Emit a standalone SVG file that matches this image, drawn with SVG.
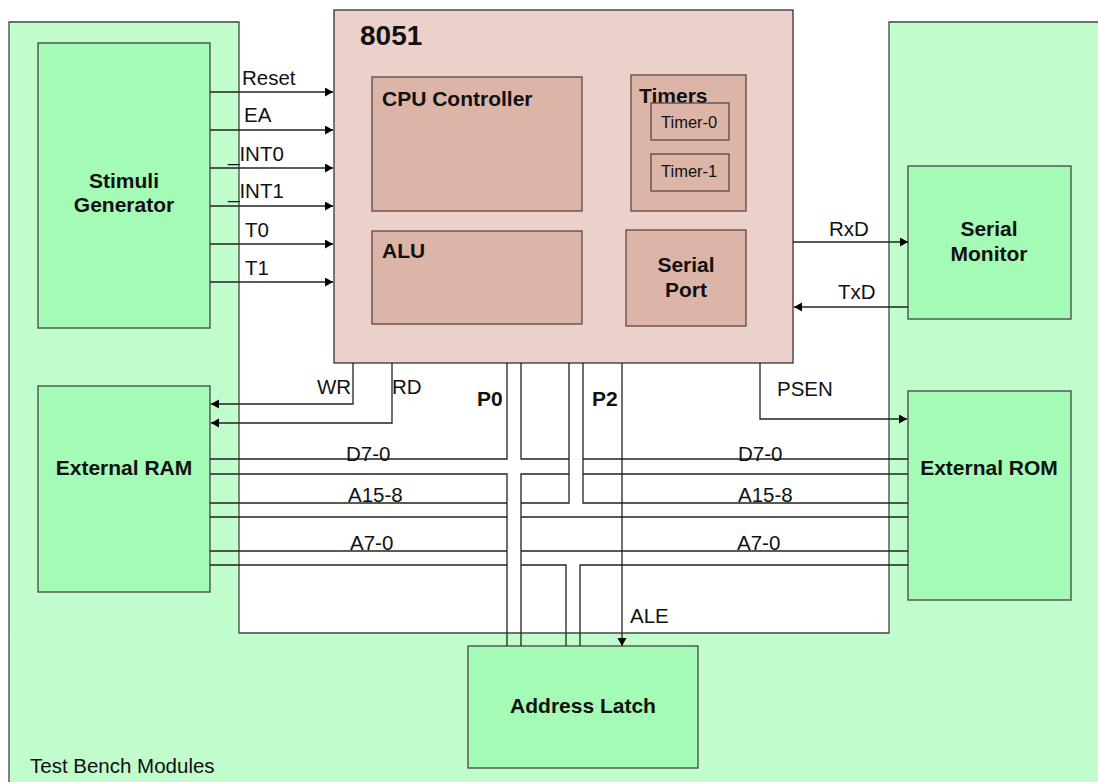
<svg xmlns="http://www.w3.org/2000/svg" width="1098" height="782" viewBox="0 0 1098 782">
<style>
text{font-family:"Liberation Sans",Arial,sans-serif;fill:#111}
.lbl{font-size:20.5px}
.b{font-size:21px;font-weight:bold}
.c{text-anchor:middle}
.gm{fill:#a3fbb5;stroke:#444;stroke-width:1.3}
.cpu{fill:#ebd1ca;stroke:#333;stroke-width:1.3}
.blk{fill:#dcb5a8;stroke:#5a4843;stroke-width:1.3}
.w{fill:none;stroke:#222;stroke-width:1.3}
</style>
<defs>
<marker id="ah" markerUnits="userSpaceOnUse" markerWidth="9" markerHeight="10" refX="8" refY="4.5" orient="auto">
<path d="M0,0 L8,4.5 L0,9 Z" fill="#000"/>
</marker>
</defs>
<rect width="1098" height="782" fill="#fff"/>
<g id="test-bench">
<path d="M9,22 H239 V633 H889 V22 H1105 V790 H9 Z" fill="#c0fccc" stroke="#444" stroke-width="1.3"/>
<text class="lbl" x="30" y="773">Test Bench Modules</text>
</g>
<g id="stimuli-generator">
<rect class="gm" x="38" y="43" width="172" height="285"/>
<text class="b c" x="124" y="188">Stimuli</text>
<text class="b c" x="124" y="212">Generator</text>
</g>
<g id="external-ram">
<rect class="gm" x="38" y="386" width="172" height="206"/>
<text class="b c" x="124" y="475">External RAM</text>
</g>
<g id="serial-monitor">
<rect class="gm" x="908" y="166" width="163" height="153"/>
<text class="b c" x="989" y="236">Serial</text>
<text class="b c" x="989" y="261">Monitor</text>
</g>
<g id="external-rom">
<rect class="gm" x="908" y="391" width="163" height="209"/>
<text class="b c" x="989" y="475">External ROM</text>
</g>
<g id="address-latch">
<rect class="gm" x="468" y="646" width="230" height="122"/>
<text class="b c" x="583" y="713">Address Latch</text>
</g>
<g id="mcu-8051">
<rect class="cpu" x="334" y="10" width="459" height="353"/>
<text x="360" y="45" style="font-size:28px;font-weight:bold">8051</text>
<g id="cpu-controller">
<rect class="blk" x="372" y="77" width="210" height="134"/>
<text class="b" x="382" y="106">CPU Controller</text>
</g>
<g id="alu">
<rect class="blk" x="372" y="231" width="210" height="93"/>
<text class="b" x="382" y="258">ALU</text>
</g>
<g id="timers">
<rect class="blk" x="631" y="75" width="115" height="136"/>
<text class="b" x="639" y="103">Timers</text>
<g id="timer-0">
<rect class="blk" x="651" y="103" width="78" height="37"/>
<text x="661" y="128" style="font-size:16.5px">Timer-0</text>
</g>
<g id="timer-1">
<rect class="blk" x="651" y="154" width="78" height="37"/>
<text x="661" y="177" style="font-size:16.5px">Timer-1</text>
</g>
</g>
<g id="serial-port">
<rect class="blk" x="626" y="230" width="120" height="96"/>
<text class="b c" x="686" y="272">Serial</text>
<text class="b c" x="686" y="297">Port</text>
</g>
</g>
<g id="connectors">
<line class="w" x1="210" y1="92" x2="333" y2="92" marker-end="url(#ah)"/>
<line class="w" x1="210" y1="130" x2="333" y2="130" marker-end="url(#ah)"/>
<line class="w" x1="210" y1="168" x2="333" y2="168" marker-end="url(#ah)"/>
<line class="w" x1="210" y1="206" x2="333" y2="206" marker-end="url(#ah)"/>
<line class="w" x1="210" y1="244" x2="333" y2="244" marker-end="url(#ah)"/>
<line class="w" x1="210" y1="282" x2="333" y2="282" marker-end="url(#ah)"/>
<line class="w" x1="793" y1="242" x2="908" y2="242" marker-end="url(#ah)"/>
<line class="w" x1="908" y1="307" x2="794" y2="307" marker-end="url(#ah)"/>
<polyline class="w" points="353,363 353,404 211,404" marker-end="url(#ah)"/>
<polyline class="w" points="392,363 392,423 211,423" marker-end="url(#ah)"/>
<polyline class="w" points="760,363 760,419 907,419" marker-end="url(#ah)"/>
<line class="w" x1="622" y1="363" x2="622" y2="646" marker-end="url(#ah)"/>
<polyline class="w" points="210,459 507,459 507,363"/>
<polyline class="w" points="521,363 521,459 569,459"/>
<line class="w" x1="583" y1="459" x2="908" y2="459"/>
<polyline class="w" points="210,474 507,474 507,646"/>
<polyline class="w" points="569,474 521,474 521,646"/>
<line class="w" x1="583" y1="474" x2="908" y2="474"/>
<polyline class="w" points="569,363 569,503 521,503"/>
<polyline class="w" points="583,363 583,503 908,503"/>
<line class="w" x1="210" y1="503" x2="507" y2="503"/>
<line class="w" x1="210" y1="517" x2="507" y2="517"/>
<line class="w" x1="521" y1="517" x2="908" y2="517"/>
<line class="w" x1="210" y1="551" x2="507" y2="551"/>
<line class="w" x1="521" y1="551" x2="908" y2="551"/>
<line class="w" x1="210" y1="565" x2="507" y2="565"/>
<polyline class="w" points="521,565 566,565 566,646"/>
<polyline class="w" points="580,646 580,565 908,565"/>
<text class="lbl" x="242" y="85">Reset</text>
<text class="lbl" x="244" y="122">EA</text>
<text class="lbl" x="228" y="161">_INT0</text>
<text class="lbl" x="228" y="198">_INT1</text>
<text class="lbl" x="245" y="237">T0</text>
<text class="lbl" x="245" y="275">T1</text>
<text class="lbl" x="829" y="236">RxD</text>
<text class="lbl" x="838" y="299">TxD</text>
<text class="lbl" x="317" y="394">WR</text>
<text class="lbl" x="392" y="394">RD</text>
<text class="b" x="477" y="406">P0</text>
<text class="b" x="592" y="406">P2</text>
<text class="lbl" x="777" y="396">PSEN</text>
<text class="lbl" x="346" y="461">D7-0</text>
<text class="lbl" x="348" y="502">A15-8</text>
<text class="lbl" x="350" y="550">A7-0</text>
<text class="lbl" x="738" y="461">D7-0</text>
<text class="lbl" x="738" y="502">A15-8</text>
<text class="lbl" x="737" y="550">A7-0</text>
<text class="lbl" x="630" y="623">ALE</text>
</g>
</svg>
